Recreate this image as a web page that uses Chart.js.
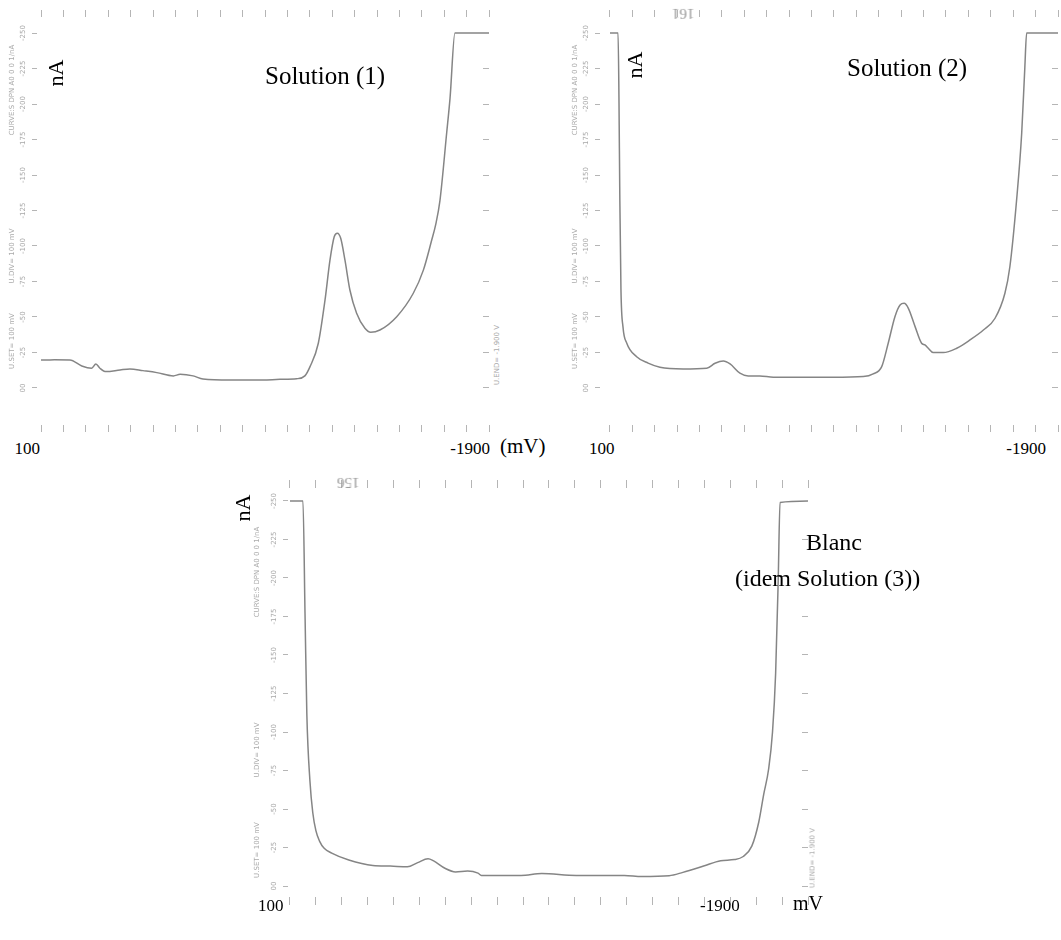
<!DOCTYPE html>
<html>
<head>
<meta charset="utf-8">
<script src="https://cdn.jsdelivr.net/npm/chart.js@4.4.1/dist/chart.umd.min.js"></script>
<style>
  body { margin: 0; background: #fff; width: 1061px; height: 940px; overflow: hidden; position: relative; }
  canvas { position: absolute; }
  .t { position: absolute; white-space: nowrap; line-height: 1; font-family: "Liberation Serif", serif; color: #000; }
  .r { transform: translateX(-100%); }
  .v { transform: translate(-50%, -50%) rotate(-90deg); }
  .u { transform: rotate(180deg); }
  .s { font-family: "DejaVu Sans", sans-serif; font-size: 7px; color: #aaa; }
</style>
</head>
<body>
<canvas id="c1"></canvas>
<canvas id="c2"></canvas>
<canvas id="c3"></canvas>

<!-- panel 1 -->
<div class="t v" style="left:56px;top:73px;font-size:22px">nA</div>
<div class="t" style="left:265px;top:63px;font-size:25px">Solution (1)</div>
<div class="t v s" style="left:12px;top:90px">CURVE:S DPN A0 0 0 1/nA</div>
<div class="t v s" style="left:12px;top:256px">U.DIV= 100 mV</div>
<div class="t v s" style="left:12px;top:341px">U.SET= 100 mV</div>
<div class="t v s" style="left:497px;top:355px">U.END= -1.900 V</div>
<div class="t r" style="left:40px;top:440px;font-size:17px">100</div>
<div class="t r" style="left:490px;top:440px;font-size:17px">-1900</div>
<div class="t" style="left:500px;top:436px;font-size:21px">(mV)</div>

<!-- panel 2 -->
<div class="t v" style="left:635px;top:65px;font-size:22px">nA</div>
<div class="t" style="left:847px;top:55px;font-size:25px">Solution (2)</div>
<div class="t v s" style="left:575px;top:90px">CURVE:S DPN A0 0 0 1/nA</div>
<div class="t v s" style="left:575px;top:256px">U.DIV= 100 mV</div>
<div class="t v s" style="left:575px;top:341px">U.SET= 100 mV</div>
<div class="t u" style="left:672px;top:6px;font-size:15px;color:#999">161</div>
<div class="t" style="left:589px;top:440px;font-size:17px">100</div>
<div class="t r" style="left:1046px;top:440px;font-size:17px">-1900</div>

<!-- panel 3 -->
<div class="t v" style="left:243px;top:508px;font-size:22px">nA</div>
<div class="t" style="left:806px;top:530px;font-size:24px">Blanc</div>
<div class="t" style="left:735px;top:566px;font-size:24px">(idem Solution (3))</div>
<div class="t v s" style="left:257px;top:572px">CURVE:S DPN A0 0 0 1/nA</div>
<div class="t v s" style="left:257px;top:750px">U.DIV= 100 mV</div>
<div class="t v s" style="left:257px;top:850px">U.SET= 100 mV</div>
<div class="t v s" style="left:813px;top:858px">U.END= -1.900 V</div>
<div class="t u" style="left:337px;top:475px;font-size:15px;color:#999">156</div>
<div class="t" style="left:258px;top:897px;font-size:17px">100</div>
<div class="t" style="left:700px;top:897px;font-size:17px">-1900</div>
<div class="t" style="left:793px;top:893px;font-size:20px">mV</div>

<script>
// potential (mV) and current (nA)
const sol1Mv = [100, 80, 40, -29, -82, -126, -145, -163, -190, -253, -297, -355, -417, -491, -521, -579, -623, -744, -891, -967, -1041, -1078, -1101, -1138, -1168, -1190, -1209, -1223, -1238, -1257, -1279, -1309, -1346, -1372, -1413, -1488, -1562, -1607, -1644, -1662, -1681, -1711, -1726, -1748, -1900];
const sol1nA = [-19.7, -19.7, -19.8, -19.7, -15.5, -13.9, -16.9, -13.9, -11.5, -12.7, -13.4, -12.2, -10.8, -8.5, -9.6, -8.5, -6.3, -5.6, -5.6, -6.1, -6.5, -8.5, -15, -31.5, -62, -90, -106.5, -109, -105.4, -90, -69, -52.6, -42, -39.2, -40.8, -50.2, -66.7, -83, -104, -115, -132, -179.6, -204, -250, -250];

const sol2Mv = [100, 64, 60, 56, 51, 42, 25, -19, -70, -123, -226, -332, -369, -406, -436, -480, -517, -569, -629, -748, -897, -1031, -1075, -1113, -1142, -1172, -1195, -1213, -1232, -1262, -1291, -1306, -1321, -1343, -1388, -1448, -1507, -1567, -1619, -1663, -1685, -1715, -1738, -1752, -1760, -1900];
const sol2nA = [-250, -250, -205, -132, -69, -43, -31.5, -22, -17.5, -14.6, -13.4, -13.9, -17.4, -19, -16.9, -10.4, -8.5, -8.5, -7.5, -7.5, -7.5, -8, -9.9, -15, -31.5, -50.2, -58.5, -59.6, -56.1, -43.2, -31.5, -30.3, -28, -24.9, -24.9, -28, -33.8, -40.8, -49.1, -66.7, -85.2, -132, -179.6, -226, -250, -250];

const blancMv = [100, 50, 42, 35, 23, 12, 0, -14, -32, -61, -127, -220, -287, -353, -393, -433, -453, -500, -539, -586, -626, -639, -792, -872, -1005, -1191, -1258, -1364, -1417, -1497, -1563, -1616, -1650, -1683, -1710, -1729, -1748, -1763, -1775, -1785, -1792, -1900];
const blancnA = [-250, -250, -177, -111.7, -68.2, -47.6, -36, -29.2, -24.5, -21.4, -16.9, -13.4, -13, -12.5, -15.2, -17.7, -16.5, -11.4, -9.2, -9.8, -8.4, -6.9, -6.9, -8.1, -6.9, -6.9, -6.2, -6.7, -8.9, -13, -16.5, -17.2, -19.2, -25.9, -41.6, -59.5, -76, -100, -138, -198.7, -249, -250];

const yTickValues = [-250, -225, -200, -175, -150, -125, -100, -75, -50, -25, 0];
const xTickValues = [100, 0, -100, -200, -300, -400, -500, -600, -700, -800, -900, -1000, -1100, -1200, -1300, -1400, -1500, -1600, -1700, -1800, -1900];

const curveColor = '#858585';
const tickColor = '#b5b5b5';

function fixSize(prop, val) {
  return function (scale) { scale[prop] = val; };
}

function setTicks(values) {
  return function (scale) { scale.ticks = values.map(v => ({ value: v })); };
}

function drawPanel(id, mv, na, p) {
  const cv = document.getElementById(id);
  cv.width = p.leftW + p.plotW + p.rightW;
  cv.height = p.topH + p.plotH + p.bottomH;
  cv.style.left = p.left + 'px';
  cv.style.top = p.top + 'px';

  const xGrid = { display: true, drawOnChartArea: false, drawTicks: true, tickLength: p.xTl, color: tickColor, lineWidth: 1 };

  new Chart(cv.getContext('2d'), {
    type: 'line',
    data: {
      datasets: [{
        data: mv.map((v, i) => ({ x: v, y: na[i] })),
        borderColor: curveColor,
        borderWidth: 1.5,
        pointRadius: 0,
        fill: false,
        cubicInterpolationMode: 'monotone'
      }]
    },
    options: {
      responsive: false,
      animation: false,
      devicePixelRatio: 1,
      layout: { padding: 0 },
      plugins: { legend: { display: false }, tooltip: { enabled: false } },
      scales: {
        x: {
          type: 'linear', position: 'bottom', reverse: true,
          min: -1900, max: p.xMax,
          grid: xGrid, border: { display: false },
          ticks: { display: false },
          afterBuildTicks: setTicks(xTickValues),
          afterFit: fixSize('height', p.bottomH)
        },
        xt: {
          type: 'linear', position: 'top', reverse: true,
          min: -1900, max: p.xMax,
          grid: xGrid, border: { display: false },
          ticks: { display: false },
          afterBuildTicks: setTicks(xTickValues),
          afterFit: fixSize('height', p.topH)
        },
        y: {
          type: 'linear', position: 'left', reverse: true,
          min: p.yMin, max: p.yMax,
          grid: { display: true, drawOnChartArea: false, drawTicks: true, tickLength: 5, color: tickColor },
          border: { display: false },
          ticks: {
            color: '#a8a8a8', minRotation: 90, maxRotation: 90, crossAlign: 'center', padding: 1,
            font: { family: 'DejaVu Sans', size: 7 },
            callback: v => (v === 0 ? '00' : String(v))
          },
          afterBuildTicks: setTicks(yTickValues),
          afterFit: fixSize('width', p.leftW)
        },
        yr: {
          type: 'linear', position: 'right', reverse: true,
          min: p.yMin, max: p.yMax,
          grid: { display: true, drawOnChartArea: false, drawTicks: true, tickLength: -6, color: tickColor },
          border: { display: false },
          ticks: { display: false },
          afterBuildTicks: setTicks(yTickValues.slice(1)),
          afterFit: fixSize('width', p.rightW)
        }
      }
    }
  });
}

drawPanel('c1', sol1Mv, sol1nA, {
  left: 0, top: 0, leftW: 37, plotW: 452, rightW: 2, topH: 17, plotH: 408, bottomH: 8,
  xTl: 7, xMax: 117.9, yMin: -261.3, yMax: 26.1
});
drawPanel('c2', sol2Mv, sol2nA, {
  left: 563, top: 0, leftW: 37, plotW: 458, rightW: 2, topH: 17, plotH: 408, bottomH: 8,
  xTl: 7, xMax: 144.6, yMin: -261.3, yMax: 26.1
});
drawPanel('c3', blancMv, blancnA, {
  left: 251, top: 471, leftW: 37, plotW: 520, rightW: 2, topH: 17, plotH: 409, bottomH: 8,
  xTl: 8, xMax: 107.7, yMin: -258.4, yMax: 7.1
});
</script>
</body>
</html>
